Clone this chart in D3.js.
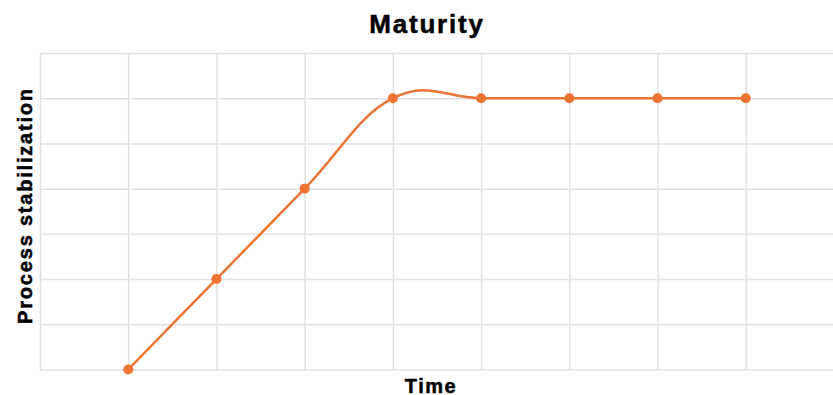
<!DOCTYPE html>
<html>
<head>
<meta charset="utf-8">
<script src="https://cdn.jsdelivr.net/npm/d3@7/dist/d3.min.js"></script>
<style>
  html, body { margin: 0; padding: 0; background: #fff; }
  svg { display: block; font-family: "Liberation Sans", Arial, Helvetica, sans-serif; }
</style>
</head>
<body>
<svg id="chart" width="833" height="395"></svg>
<script>
// Chart content
const titleText = "Maturity";
const xLabelText = "Time";
const yLabelText = "Process stabilization";

// Time steps (grid slots) and stabilization level at each step
const timeSteps = [1, 2, 3, 4, 5, 6, 7, 8];
const stabilization = [0, 2, 4, 6, 6, 6, 6, 6];

// Grid extents
const xTicks = [0, 1, 2, 3, 4, 5, 6, 7, 8, 9];
const yTicks = [0, 1, 2, 3, 4, 5, 6, 7];

const width = 833, height = 395;
const margin = { top: 53, right: -1, bottom: 25.5, left: 40 };
const svg = d3.select("#chart");

const x = d3.scaleLinear()
  .domain([0, 9])
  .range([margin.left, width - margin.right]);
const y = d3.scaleLinear()
  .domain([0, 7])
  .range([height - margin.bottom, margin.top]);

const gridColor = "#e2e2e2";
const lineColor = "#ed7433";

// Vertical grid lines
svg.append("g")
  .attr("transform", `translate(0,${y(0)})`)
  .call(d3.axisBottom(x).tickValues(xTicks)
    .tickSize(-(y(0) - y(7))).tickFormat(""))
  .call(g => g.select(".domain").remove())
  .call(g => g.selectAll("line").attr("stroke", gridColor).attr("stroke-width", 1.5));

// Horizontal grid lines
svg.append("g")
  .attr("transform", `translate(${x(0)},0)`)
  .call(d3.axisLeft(y).tickValues(yTicks)
    .tickSize(-(x(9) - x(0))).tickFormat(""))
  .call(g => g.select(".domain").remove())
  .call(g => g.selectAll("line").attr("stroke", gridColor).attr("stroke-width", 1.5));

const data = timeSteps.map((t, i) => ({ t, v: stabilization[i] }));

// Smoothed series line
const line = d3.line()
  .x(d => x(d.t))
  .y(d => y(d.v))
  .curve(d3.curveCardinal.tension(-0.2));

svg.append("path")
  .datum(data)
  .attr("fill", "none")
  .attr("stroke", lineColor)
  .attr("stroke-width", 2.5)
  .attr("d", line);

// Data points
svg.append("g")
  .selectAll("circle")
  .data(data)
  .join("circle")
  .attr("cx", d => x(d.t))
  .attr("cy", d => y(d.v))
  .attr("r", 5)
  .attr("fill", lineColor);

// Heavy bold labels
function label(sel) {
  return sel
    .attr("font-weight", "bold")
    .attr("fill", "#000")
    .attr("stroke", "#000")
    .attr("stroke-width", 0.5)
    .attr("text-anchor", "middle");
}

// Title
svg.append("text")
  .attr("x", 427)
  .attr("y", 33)
  .attr("font-size", 26)
  .attr("letter-spacing", 1.8)
  .call(label)
  .text(titleText);

// X axis label
svg.append("text")
  .attr("x", 431)
  .attr("y", 392.5)
  .attr("font-size", 20)
  .attr("letter-spacing", 1.5)
  .call(label)
  .text(xLabelText);

// Y axis label
svg.append("text")
  .attr("transform", "translate(32,205.5) rotate(-90)")
  .attr("font-size", 20)
  .attr("letter-spacing", 1.8)
  .call(label)
  .text(yLabelText);
</script>
</body>
</html>
